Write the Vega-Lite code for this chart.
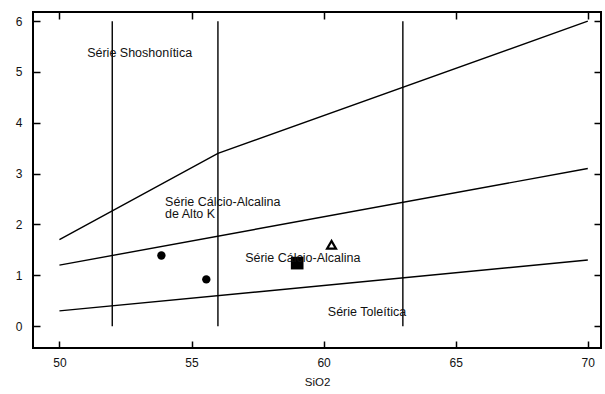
{
  "$schema": "https://vega.github.io/schema/vega-lite/v6.json",
  "autosize": {"type": "none"},
  "padding": {"left": 33, "top": 12, "right": 4, "bottom": 46},
  "width": 568,
  "height": 336,
  "background": "white",
  "config": {
    "view": {"stroke": "black", "strokeWidth": 2},
    "font": "Liberation Sans",
    "axis": {"grid": false, "domain": false, "tickColor": "black", "tickWidth": 1.5, "tickSize": -7, "labelColor": "#111", "labelFontSize": 12, "labelFont": "Liberation Sans", "titleFont": "Liberation Sans", "titleFontWeight": "normal", "titleFontSize": 11.5, "titleColor": "#111"}
  },
  "datasets": {
    "lines": [
      {"line": "a", "x": 50, "y": 1.7}, {"line": "a", "x": 56, "y": 3.4}, {"line": "a", "x": 70, "y": 6.0},
      {"line": "b", "x": 50, "y": 1.2}, {"line": "b", "x": 70, "y": 3.1},
      {"line": "c", "x": 50, "y": 0.3}, {"line": "c", "x": 70, "y": 1.3}
    ],
    "verticals": [{"x": 52, "y": 0, "y2": 6}, {"x": 56, "y": 0, "y2": 6}, {"x": 63, "y": 0, "y2": 6}],
    "samples": [
      {"sample": "A", "x": 53.86, "y": 1.39, "shape": "circle"},
      {"sample": "B", "x": 55.56, "y": 0.92, "shape": "circle"},
      {"sample": "C", "x": 59.0, "y": 1.24, "shape": "square"},
      {"sample": "D", "x": 60.3, "y": 1.6, "shape": "triangle"}
    ],
    "labels": [
      {"text": "Série Shoshonítica", "x": 51.05, "y": 5.37},
      {"text": "Série Cálcio-Alcalina", "x": 54.0, "y": 2.45},
      {"text": "de Alto K", "x": 54.0, "y": 2.2},
      {"text": "Série Cálcio-Alcalina", "x": 57.03, "y": 1.35},
      {"text": "Série Toleítica", "x": 60.16, "y": 0.27}
    ]
  },
  "resolve": {"axis": {"x": "independent", "y": "independent"}},
  "layer": [
    {
      "data": {"name": "lines"},
      "mark": {"type": "line", "color": "black", "strokeWidth": 1.4},
      "encoding": {
        "x": {"field": "x", "type": "quantitative", "scale": {"domain": [49, 70.5], "nice": false, "zero": false},
              "axis": {"orient": "bottom", "values": [50, 55, 60, 65, 70], "title": "SiO2", "labelPadding": 16, "titlePadding": 8}},
        "y": {"field": "y", "type": "quantitative", "scale": {"domain": [-0.43, 6.18], "nice": false, "zero": false},
              "axis": {"orient": "left", "values": [0, 1, 2, 3, 4, 5, 6], "title": null, "labelPadding": 18}},
        "detail": {"field": "line"}
      }
    },
    {
      "data": {"name": "verticals"},
      "mark": {"type": "rule", "color": "black", "strokeWidth": 1.4},
      "encoding": {
        "x": {"field": "x", "type": "quantitative", "axis": {"orient": "top", "values": [50, 55, 60, 65, 70], "labels": false, "title": null}},
        "y": {"field": "y", "type": "quantitative", "axis": {"orient": "right", "values": [0, 1, 2, 3, 4, 5, 6], "labels": false, "title": null}},
        "y2": {"field": "y2"}
      }
    },
    {
      "data": {"name": "samples"},
      "transform": [{"filter": "datum.shape === 'circle'"}],
      "mark": {"type": "point", "shape": "circle", "filled": true, "color": "black", "size": 70, "opacity": 1},
      "encoding": {
        "x": {"field": "x", "type": "quantitative", "axis": null},
        "y": {"field": "y", "type": "quantitative", "axis": null}
      }
    },
    {
      "data": {"name": "samples"},
      "transform": [{"filter": "datum.shape === 'square'"}],
      "mark": {"type": "point", "shape": "square", "filled": true, "color": "black", "size": 160, "opacity": 1},
      "encoding": {
        "x": {"field": "x", "type": "quantitative", "axis": null},
        "y": {"field": "y", "type": "quantitative", "axis": null}
      }
    },
    {
      "data": {"name": "samples"},
      "transform": [{"filter": "datum.shape === 'triangle'"}],
      "mark": {"type": "point", "shape": "triangle-up", "filled": false, "color": "black", "strokeWidth": 2.2, "size": 80, "opacity": 1},
      "encoding": {
        "x": {"field": "x", "type": "quantitative", "axis": null},
        "y": {"field": "y", "type": "quantitative", "axis": null}
      }
    },
    {
      "data": {"name": "labels"},
      "mark": {"type": "text", "align": "left", "baseline": "middle", "fontSize": 12.5, "color": "#111", "font": "Liberation Sans"},
      "encoding": {
        "x": {"field": "x", "type": "quantitative", "axis": null},
        "y": {"field": "y", "type": "quantitative", "axis": null},
        "text": {"field": "text"}
      }
    }
  ]
}
